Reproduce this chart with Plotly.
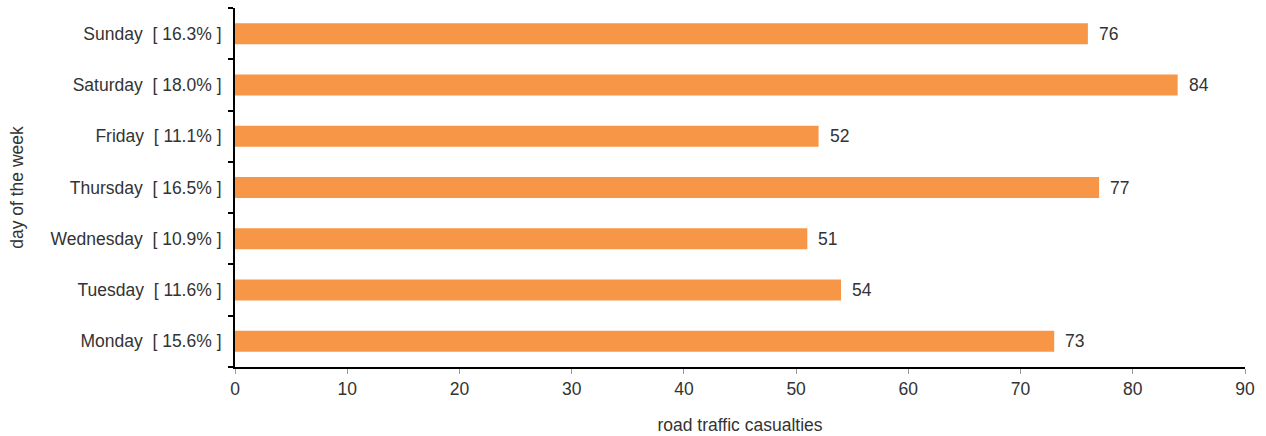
import plotly.graph_objects as go

days = ["Monday", "Tuesday", "Wednesday", "Thursday", "Friday", "Saturday", "Sunday"]
shares = ["15.6%", "11.6%", "10.9%", "16.5%", "11.1%", "18.0%", "16.3%"]
casualties = [73, 54, 51, 77, 52, 84, 76]

labels = [f"{d}\u00a0\u00a0[ {s} ]" for d, s in zip(days, shares)]

FONT = "Liberation Sans, Arial, sans-serif"

fig = go.Figure(
    go.Bar(
        x=casualties,
        y=labels,
        orientation="h",
        marker=dict(color="#F79646", line=dict(width=0)),
        width=0.41,
        hoverinfo="skip",
    )
)

for lab, val in zip(labels, casualties):
    fig.add_annotation(
        x=val, y=lab, text=str(val), showarrow=False,
        xanchor="left", xshift=9,
        font=dict(family=FONT, size=17.5, color="#333333"),
    )

fig.update_layout(
    width=1266, height=436,
    margin=dict(l=235, r=21, t=8, b=69),
    paper_bgcolor="white", plot_bgcolor="white",
    font=dict(family=FONT, size=17.5, color="#333333"),
    showlegend=False,
    xaxis=dict(
        range=[0, 90], dtick=10, showgrid=False, zeroline=False,
        showline=True, linecolor="black", linewidth=2,
        ticks="outside", ticklen=5, tickcolor="#999999", tickwidth=1,
        automargin=False,
        title=dict(text="road traffic casualties", standoff=21,
                   font=dict(size=17.5)),
    ),
    yaxis=dict(
        type="category", categoryorder="array", categoryarray=labels,
        showgrid=False, zeroline=False,
        showline=True, linecolor="black", linewidth=2,
        ticks="outside", ticklen=5, tickcolor="black", tickwidth=2,
        tickson="boundaries", ticklabelstandoff=8,
        automargin=False,
        title=dict(text="day of the week", standoff=22, font=dict(size=17.5)),
    ),
)

fig.write_html("out.html")
